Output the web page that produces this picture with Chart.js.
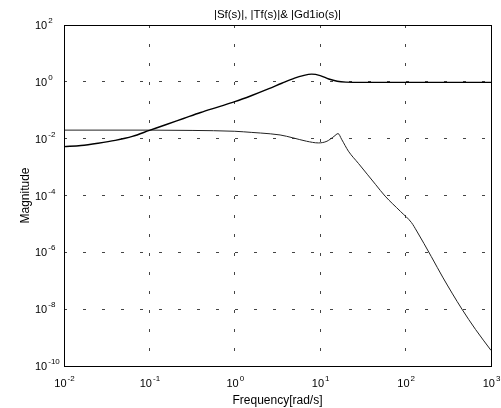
<!DOCTYPE html>
<html>
<head>
<meta charset="utf-8">
<script src="https://cdn.jsdelivr.net/npm/chart.js@4/dist/chart.umd.min.js"></script>
<style>
  html, body { margin: 0; padding: 0; background: #fff; }
  #wrap { width: 501px; height: 408px; }
</style>
</head>
<body>
<div id="wrap"><canvas id="chart_mag"></canvas></div>
<script>
const chartTitle = '|Sf(s)|, |Tf(s)|& |Gd1io(s)|';

// |Sf(s)|
const sFreq = [0.01, 0.0158, 0.0251, 0.0398, 0.0631, 0.1, 0.158, 0.251, 0.398, 0.631, 1, 1.58, 2.51, 3.55, 5.01, 6.31, 7.94, 10, 12.6, 15.8, 20, 31.6, 100, 1000];
const sMag  = [0.00525, 0.00575, 0.00692, 0.00871, 0.0120, 0.0195, 0.0316, 0.0513, 0.0832, 0.129, 0.200, 0.331, 0.575, 0.891, 1.35, 1.66, 1.86, 1.66, 1.26, 1.05, 0.977, 0.955, 0.955, 0.955];

// |Tf(s)| / |Gd1io(s)|
const tFreq = [0.01, 0.1, 0.316, 1, 1.58, 2.0, 3.39, 4.79, 6.92, 9.55, 12.0, 14.5, 16.2, 17.8, 21.4, 28.2, 35.5, 44.7, 57.5, 87.1, 117, 135, 200, 275, 457, 661, 1000];
const tMag  = [0.0200, 0.0200, 0.0195, 0.0182, 0.0166, 0.0158, 0.0135, 0.0107, 0.00813, 0.00708, 0.00813, 0.0120, 0.0151, 0.00955, 0.00363, 0.00132, 5.62e-4, 2.40e-4, 9.55e-5, 2.75e-5, 1.12e-5, 5.62e-6, 7.08e-7, 1.26e-7, 1.0e-8, 1.91e-9, 3.55e-10];

const xTickValues = [1e-2, 1e-1, 1e0, 1e1, 1e2, 1e3];
const xTickExps   = ['-2', '-1', '0', '1', '2', '3'];
const yTickValues = [1e-10, 1e-8, 1e-6, 1e-4, 1e-2, 1e0, 1e2];
const yTickExps   = ['-10', '-8', '-6', '-4', '-2', '0', '2'];

const FONT = '"Liberation Sans", Arial, sans-serif';

function drawPow(ctx, exp, x, baseY, align) {
    ctx.font = '11px ' + FONT;
    const bw = ctx.measureText('10').width;
    ctx.font = '8px ' + FONT;
    const ew = ctx.measureText(exp).width;
    const left = align === 'center' ? x - (bw + ew) / 2 : x;
    ctx.textAlign = 'left';
    ctx.textBaseline = 'alphabetic';
    ctx.font = '11px ' + FONT;
    ctx.fillText('10', left, baseY);
    ctx.font = '8px ' + FONT;
    ctx.fillText(exp, left + bw + 1, baseY - 6);
}

// title, tick labels as 10 with raised exponent, and the closed box round the plot
const boxAndLabels = {
    id: 'boxAndLabels',
    afterDraw(chart) {
        const { ctx, chartArea: a, scales: { x, y } } = chart;
        ctx.save();
        ctx.strokeStyle = '#000';
        ctx.lineWidth = 1;
        ctx.strokeRect(Math.round(a.left) + 0.5, Math.round(a.top) + 0.5,
                       Math.round(a.right - a.left), Math.round(a.bottom - a.top));
        ctx.fillStyle = '#000';
        ctx.font = '11.5px ' + FONT;
        ctx.textAlign = 'center';
        ctx.textBaseline = 'middle';
        ctx.fillText(chartTitle, (a.left + a.right) / 2, 15);
        xTickValues.forEach((v, i) => drawPow(ctx, xTickExps[i], x.getPixelForValue(v), 387, 'center'));
        yTickValues.forEach((v, i) => drawPow(ctx, yTickExps[i], 35, y.getPixelForValue(v) + 4, 'left'));
        ctx.restore();
    }
};

const gridOpts = { color: '#444', lineWidth: 1, drawTicks: false };
const borderOpts = { display: false, dash: [3, 16] };

new Chart(document.getElementById('chart_mag'), {
    type: 'line',
    data: {
        datasets: [
            { label: '|Sf(s)|', data: sFreq.map((f, i) => ({ x: f, y: sMag[i] })),
              borderColor: '#000', borderWidth: 1.4, pointRadius: 0, cubicInterpolationMode: 'monotone' },
            { label: '|Tf(s)|', data: tFreq.map((f, i) => ({ x: f, y: tMag[i] })),
              borderColor: '#222', borderWidth: 1, pointRadius: 0, cubicInterpolationMode: 'monotone' }
        ]
    },
    options: {
        responsive: true,
        maintainAspectRatio: false,
        animation: false,
        layout: { padding: { left: 0, right: 10, top: 25, bottom: 0 } },
        plugins: {
            legend: { display: false },
            tooltip: { enabled: false },
            title: { display: false }
        },
        scales: {
            x: {
                type: 'logarithmic', min: 1e-2, max: 1e3,
                afterBuildTicks: s => { s.ticks = xTickValues.map(v => ({ value: v })); },
                afterFit: s => { s.height = 42; },
                ticks: { display: false },
                grid: gridOpts, border: borderOpts,
                title: { display: true, text: 'Frequency[rad/s]', color: '#000',
                         font: { family: FONT, size: 12 }, padding: { top: 0, bottom: 0 } }
            },
            y: {
                type: 'logarithmic', min: 1e-10, max: 1e2,
                afterBuildTicks: s => { s.ticks = yTickValues.map(v => ({ value: v })); },
                afterFit: s => { s.width = 64; },
                ticks: { display: false },
                grid: gridOpts, border: borderOpts,
                title: { display: true, text: 'Magnitude', color: '#000',
                         font: { family: FONT, size: 12 }, padding: { top: 18, bottom: 0 } }
            }
        }
    },
    plugins: [boxAndLabels]
});
</script>
</body>
</html>
